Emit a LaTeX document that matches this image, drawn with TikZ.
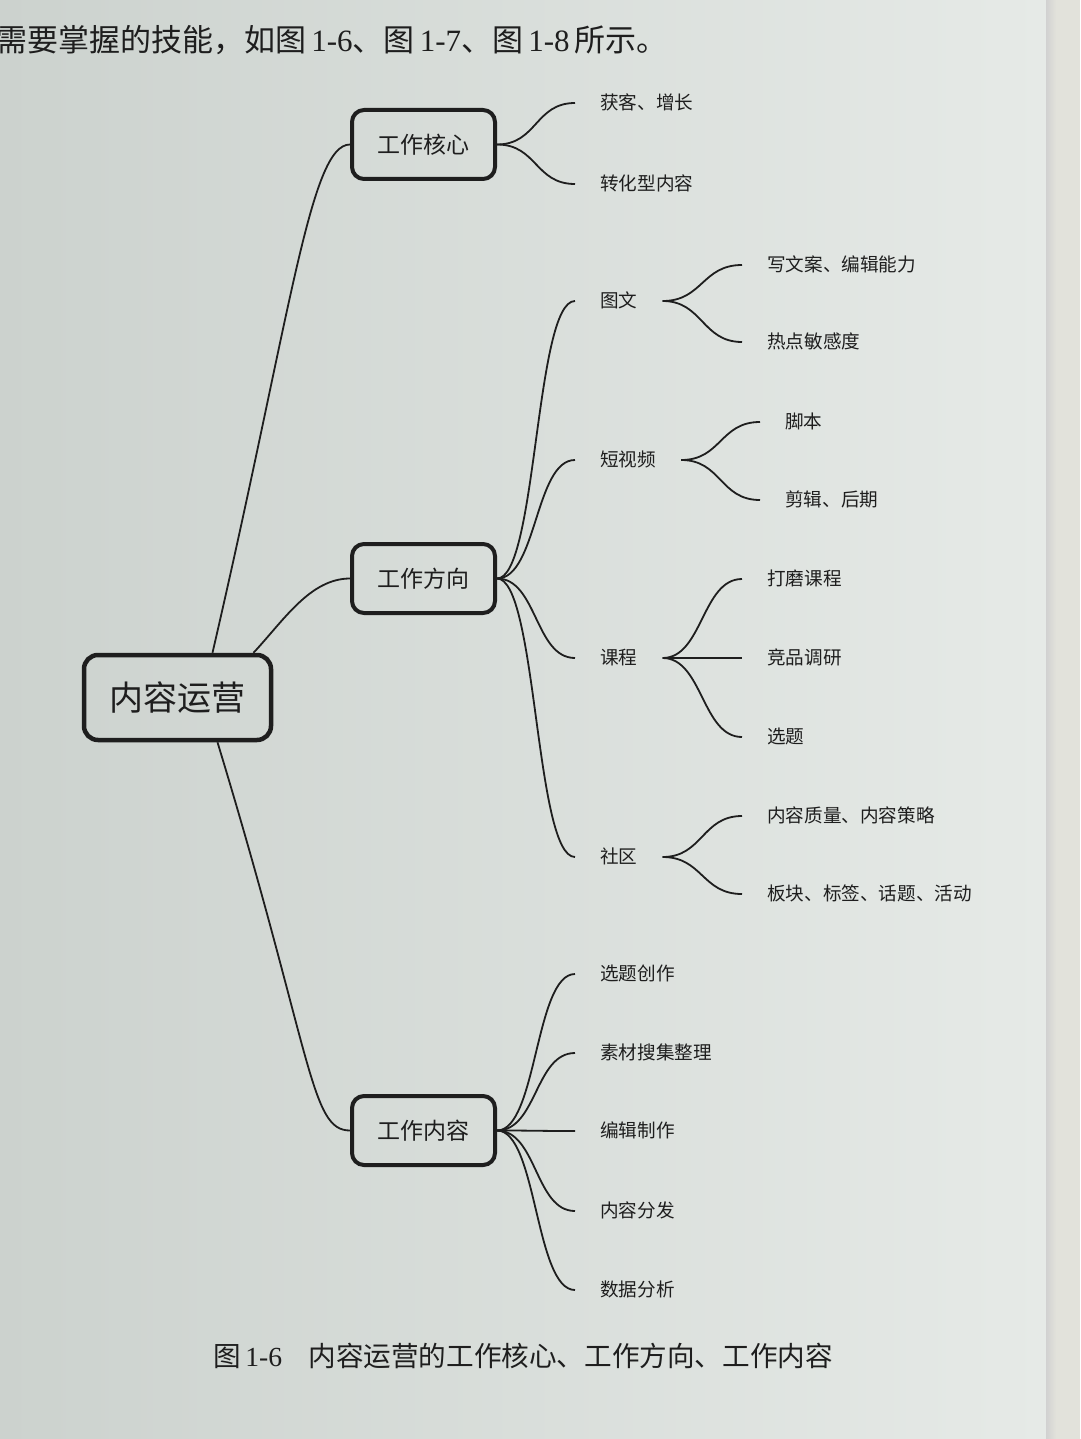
\documentclass[tikz,border=0pt]{standalone}
\usepackage{fontspec}
\setmainfont{Liberation Serif}
\newfontfamily\cjk{Noto Sans CJK SC}
\usetikzlibrary{calc}
\definecolor{paperL}{RGB}{204,210,206}
\definecolor{paperR}{RGB}{230,234,231}
\definecolor{edgeC}{RGB}{226,226,219}
\definecolor{ink}{RGB}{30,30,30}
\tikzset{
  rootbox/.style={draw=ink, line width=4.5pt, rounded corners=14pt, minimum width=187pt,
    minimum height=85pt, inner sep=0pt, font=\cjk\fontsize{34}{36}\selectfont, text=ink},
  topicbox/.style={draw=ink, line width=4pt, rounded corners=12pt, minimum width=143pt,
    minimum height=69pt, inner sep=0pt, font=\cjk\fontsize{23}{25}\selectfont, text=ink},
  leaf/.style={anchor=west, inner xsep=25pt, inner ysep=0pt, text height=1.3em, text depth=0em,
    font=\cjk\fontsize{18.6}{20}\selectfont, text=ink},
  link/.style={draw=ink, line width=1.8pt},
}
\begin{document}
\begin{tikzpicture}[x=1pt,y=-1pt]
% paper
\shade[left color=paperL, right color=paperR] (0,0) rectangle (1046,1439);
\fill[edgeC] (1046,0) rectangle (1080,1439);
\shade[left color=black!18, right color=edgeC] (1046,0) rectangle (1056,1439);
\useasboundingbox (0,0) rectangle (1080,1439);

% page text
\node[anchor=west, inner sep=0pt, text=ink, font=\fontsize{31}{33}\selectfont] (toptext) at (-4,40)
  {{\cjk 需要掌握的技能，如图}\,1-6{\cjk 、图}\,1-7{\cjk 、图}\,1-8\,{\cjk 所示。}};
\node[anchor=west, inner sep=0pt, text=ink, font=\fontsize{27.6}{30}\selectfont] (caption) at (213,1356)
  {{\cjk 图}\,1-6\hspace{0.95em}{\cjk 内容运营的工作核心、工作方向、工作内容}};

% main nodes
\node[rootbox] (root) at (177.5,697.5) {内容运营};
\node[topicbox] (core) at (423.5,144.5) {工作核心};
\node[topicbox] (dir) at (423.5,578.5) {工作方向};
\node[topicbox] (cont) at (423.5,1130.5) {工作内容};

% level 2
\node[leaf] (k1) at (575,103) {获客、增长};
\node[leaf] (k2) at (575,184) {转化型内容};
\node[leaf] (d1) at (575,301) {图文};
\node[leaf] (d2) at (575,460) {短视频};
\node[leaf] (d3) at (575,658) {课程};
\node[leaf] (d4) at (575,857) {社区};
\node[leaf] (c1) at (575,974) {选题创作};
\node[leaf] (c2) at (575,1053) {素材搜集整理};
\node[leaf] (c3) at (575,1131) {编辑制作};
\node[leaf] (c4) at (575,1211) {内容分发};
\node[leaf] (c5) at (575,1290) {数据分析};

% level 3
\node[leaf] (a1) at (742,265) {写文案、编辑能力};
\node[leaf] (a2) at (742,342) {热点敏感度};
\node[leaf] (b1) at (760,422) {脚本};
\node[leaf] (b2) at (760,500) {剪辑、后期};
\node[leaf] (e1) at (742,579) {打磨课程};
\node[leaf] (e2) at (742,658) {竞品调研};
\node[leaf] (e3) at (742,737) {选题};
\node[leaf] (f1) at (742,816) {内容质量、内容策略};
\node[leaf] (f2) at (742,894) {板块、标签、话题、活动};

% root connectors
\draw[link] ($(root.north)+(35,0)$) .. controls +(79,-341) and +(-40,0) .. (core.west);
\draw[link] ($(root.north)+(76,0)$) .. controls +(30,-32) and +(-40,0) .. (dir.west);
\draw[link] ($(root.south)+(40,0)$) .. controls +(96,316) and +(-40,0) .. (cont.west);

% topic connectors
\foreach \t in {k1,k2}{\draw[link] (core.east) .. controls +(40,0) and +(-40,0) .. (\t.west);}
\foreach \t in {d1,d2,d3,d4}{\draw[link] (dir.east) .. controls +(40,0) and +(-40,0) .. (\t.west);}
\foreach \t in {c1,c2,c3,c4,c5}{\draw[link] (cont.east) .. controls +(40,0) and +(-40,0) .. (\t.west);}

% leaf connectors
\foreach \t in {a1,a2}{\draw[link] (d1.east) .. controls +(40,0) and +(-40,0) .. (\t.west);}
\foreach \t in {b1,b2}{\draw[link] (d2.east) .. controls +(40,0) and +(-40,0) .. (\t.west);}
\foreach \t in {e1,e2,e3}{\draw[link] (d3.east) .. controls +(40,0) and +(-40,0) .. (\t.west);}
\foreach \t in {f1,f2}{\draw[link] (d4.east) .. controls +(40,0) and +(-40,0) .. (\t.west);}
\end{tikzpicture}
\end{document}
